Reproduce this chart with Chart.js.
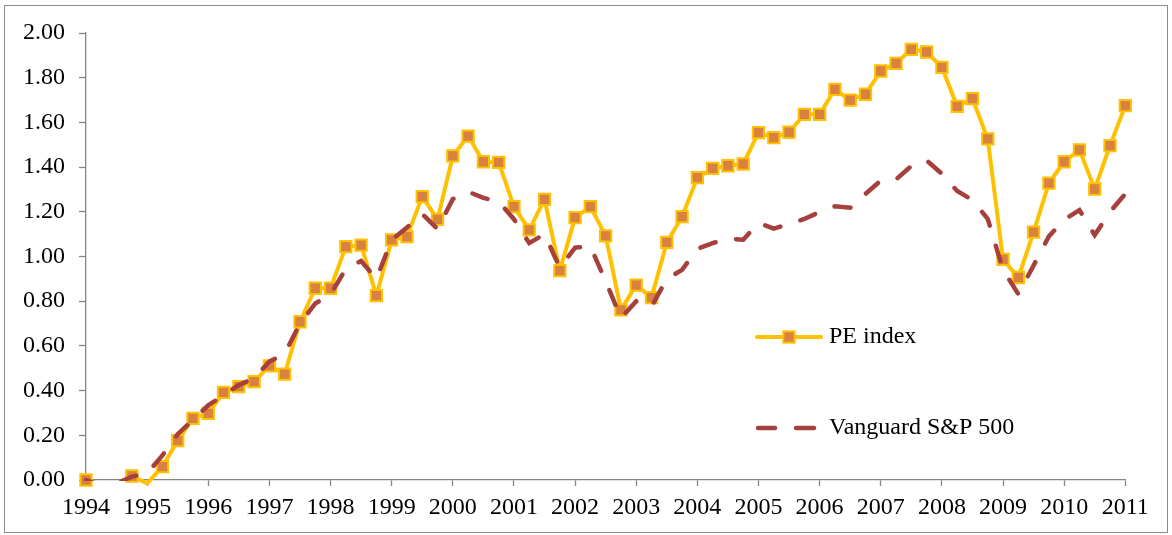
<!DOCTYPE html>
<html>
<head>
<meta charset="utf-8">
<script src="https://cdn.jsdelivr.net/npm/chart.js"></script>
<style>
  html, body { margin: 0; padding: 0; background: #ffffff; }
  #wrap { width: 1172px; height: 535px; }
</style>
</head>
<body>
<div id="wrap"><canvas id="c" width="1172" height="535"></canvas></div>
<script>
// ---- data ----
const years = [1994, 1995, 1996, 1997, 1998, 1999, 2000, 2001, 2002, 2003, 2004, 2005, 2006, 2007, 2008, 2009, 2010, 2011];
const quarterNames = ['Q1', 'Q2', 'Q3', 'Q4'];
const yTicks = [0, 0.2, 0.4, 0.6, 0.8, 1.0, 1.2, 1.4, 1.6, 1.8, 2.0];
const seriesNames = ['PE index', 'Vanguard S&P 500'];

// quarterly values, 1994 Q1 ... 2011 Q1
const peIndex = [
  0.00, null, null, 0.018,
  -0.015, 0.06, 0.176, 0.276,
  0.298, 0.392, 0.418, 0.44,
  0.511, 0.474, 0.708, 0.858,
  0.858, 1.044, 1.051, 0.825,
  1.074, 1.089, 1.268, 1.166,
  1.45, 1.539, 1.424, 1.421,
  1.223, 1.119, 1.256, 0.937,
  1.174, 1.223, 1.092, 0.761,
  0.872, 0.816, 1.063, 1.178,
  1.353, 1.394, 1.406, 1.414,
  1.554, 1.532, 1.556, 1.636,
  1.636, 1.748, 1.70, 1.726,
  1.83, 1.864, 1.927, 1.915,
  1.846, 1.672, 1.706, 1.526,
  0.987, 0.906, 1.109, 1.328,
  1.424, 1.477, 1.302, 1.496,
  1.675
];
const vanguard = [
  0.00, -0.025, -0.015, 0.015,
  0.03, 0.11, 0.205, 0.27,
  0.334, 0.38, 0.425, 0.455,
  0.53, 0.565, 0.70, 0.79,
  0.83, 0.945, 0.98, 0.90,
  1.074, 1.13, 1.19, 1.123,
  1.257, 1.29, 1.262, 1.246,
  1.167, 1.06, 1.10, 0.95,
  1.04, 1.045, 0.89, 0.725,
  0.80, 0.775, 0.90, 0.94,
  1.034, 1.06, 1.08, 1.075,
  1.15, 1.125, 1.145, 1.168,
  1.199, 1.225, 1.218, 1.28,
  1.34, 1.345, 1.405, 1.43,
  1.37, 1.293, 1.253, 1.168,
  0.94, 0.832, 0.96, 1.09,
  1.165, 1.208, 1.096, 1.20,
  1.28
];

// category labels: one per quarter
const categories = [];
years.forEach((y, i) => {
  if (i < years.length - 1) quarterNames.forEach(q => categories.push(y + ' ' + q));
  else categories.push(y + ' ' + quarterNames[0]);
});

// ---- styles ----
const FONT = "'Liberation Serif', 'Times New Roman', serif";
const AXIS = '#868686';
const YELLOW = '#FFC000';
const MARKER = '#D9823F';
const RED = '#A5403D';

const frame = {
  id: 'frame',
  beforeDraw(chart) {
    const ctx = chart.ctx;
    ctx.save();
    ctx.fillStyle = '#ffffff';
    ctx.fillRect(0, 0, chart.width, chart.height);
    ctx.strokeStyle = '#8c8c8c';
    ctx.lineWidth = 1;
    ctx.strokeRect(4.5, 5.5, 1163, 527);
    ctx.restore();
  }
};

const legendBox = {
  id: 'legendBox',
  afterDraw(chart) {
    const ctx = chart.ctx;
    ctx.save();
    // PE index
    let y = 337;
    ctx.strokeStyle = YELLOW;
    ctx.lineWidth = 4;
    ctx.lineCap = 'round';
    ctx.beginPath(); ctx.moveTo(757, y); ctx.lineTo(821, y); ctx.stroke();
    const s = 11.3;
    ctx.fillStyle = MARKER;
    ctx.fillRect(789 - s / 2, y - s / 2, s, s);
    ctx.lineWidth = 2;
    ctx.strokeRect(789 - s / 2, y - s / 2, s, s);
    ctx.fillStyle = '#000';
    ctx.font = '24px ' + FONT;
    ctx.textBaseline = 'middle';
    ctx.textAlign = 'left';
    ctx.fillText(seriesNames[0], 829, y);
    // Vanguard
    y = 428;
    ctx.strokeStyle = RED;
    ctx.lineWidth = 4.5;
    ctx.lineCap = 'round';
    ctx.beginPath(); ctx.moveTo(758, y); ctx.lineTo(775, y); ctx.stroke();
    ctx.beginPath(); ctx.moveTo(796, y); ctx.lineTo(814, y); ctx.stroke();
    ctx.fillText(seriesNames[1], 829, y);
    ctx.restore();
  }
};

new Chart(document.getElementById('c'), {
  type: 'line',
  data: {
    labels: categories,
    datasets: [
      {
        label: seriesNames[1],
        data: vanguard,
        borderColor: RED,
        borderWidth: 4.5,
        borderDash: [16, 21],
        borderCapStyle: 'round',
        pointRadius: 0,
        pointHoverRadius: 0,
        tension: 0,
        fill: false,
        spanGaps: false,
        order: 0,
        clip: { left: 5, right: 5, top: 5, bottom: 1 }
      },
      {
        label: seriesNames[0],
        data: peIndex,
        borderColor: YELLOW,
        borderWidth: 4,
        borderJoinStyle: 'round',
        pointStyle: 'rect',
        pointRadius: (c) => (c.raw !== null && c.raw < 0 ? 0 : 8),
        pointHoverRadius: (c) => (c.raw !== null && c.raw < 0 ? 0 : 8),
        pointBackgroundColor: MARKER,
        pointBorderColor: YELLOW,
        pointBorderWidth: 2,
        tension: 0,
        fill: false,
        spanGaps: false,
        order: 1,
        clip: { left: 12, right: 12, top: 12, bottom: 7 }
      }
    ]
  },
  options: {
    responsive: false,
    animation: false,
    devicePixelRatio: 1,
    layout: { padding: { top: 33, right: 46.7, bottom: 0, left: 0 } },
    plugins: {
      legend: { display: false },
      tooltip: { enabled: false },
      title: { display: false }
    },
    events: [],
    scales: {
      x: {
        type: 'category',
        offset: false,
        afterFit(scale) { scale.height = 55; },
        grid: {
          drawOnChartArea: false,
          drawTicks: true,
          tickLength: 6,
          tickWidth: 1.3,
          tickColor: (c) => (c.index % 4 === 0 ? AXIS : 'rgba(0,0,0,0)'),
          color: 'rgba(0,0,0,0)'
        },
        border: { display: true, color: AXIS, width: 1.3 },
        ticks: {
          autoSkip: false,
          maxRotation: 0,
          minRotation: 0,
          padding: 7,
          color: '#000',
          font: { family: FONT, size: 24 },
          callback: (v, i) => (i % 4 === 0 ? String(years[i / 4]) : '')
        }
      },
      y: {
        min: yTicks[0],
        max: yTicks[yTicks.length - 1],
        afterFit(scale) { scale.width = 86; },
        afterBuildTicks(scale) { scale.ticks = yTicks.map(v => ({ value: v })); },
        grid: {
          drawOnChartArea: false,
          drawTicks: true,
          tickLength: 7,
          tickWidth: 1.3,
          tickColor: AXIS,
          color: 'rgba(0,0,0,0)'
        },
        border: { display: true, color: AXIS, width: 1.3 },
        ticks: {
          padding: 14,
          color: '#000',
          font: { family: FONT, size: 24 },
          callback: (v) => Number(v).toFixed(2)
        }
      }
    }
  },
  plugins: [frame, legendBox]
});
</script>
</body>
</html>
